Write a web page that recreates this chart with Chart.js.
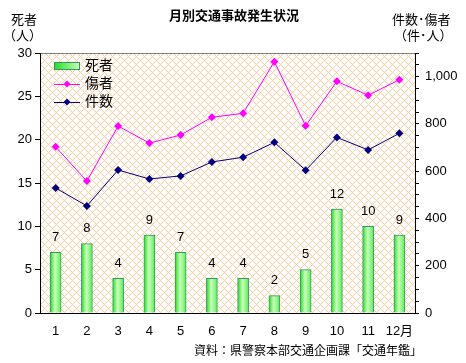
<!DOCTYPE html>
<html>
<head>
<meta charset="utf-8">
<script src="https://cdn.jsdelivr.net/npm/chart.js@4"></script>
<style>
  html, body { margin: 0; padding: 0; background: #fff; }
  #chart { display: block; }
</style>
</head>
<body>
<canvas id="chart" width="466" height="363"></canvas>
<script>
// data
var months = ["1", "2", "3", "4", "5", "6", "7", "8", "9", "10", "11", "12月"];
var deaths = [7, 8, 4, 9, 7, 4, 4, 2, 5, 12, 10, 9];
var injured = [703, 558, 791, 719, 753, 828, 845, 1063, 792, 980, 921, 987];
var accidents = [529, 453, 605, 567, 580, 639, 659, 722, 604, 743, 690, 760];
var seriesNames = ["死者", "傷者", "件数"];

var FONT = "'Liberation Sans', 'Noto Sans CJK JP', sans-serif";

// peach cross hatch for the plot area
function makeHatch(ctx) {
  var n = 8;
  var c = document.createElement('canvas');
  c.width = n; c.height = n;
  var g = c.getContext('2d');
  var img = g.createImageData(n, n);
  for (var y = 0; y < n; y++) {
    for (var x = 0; x < n; x++) {
      var i = (y * n + x) * 4;
      var on = ((x + y) % n === 0) || ((x - y + n) % n === 0);
      img.data[i] = 255;
      img.data[i + 1] = on ? 204 : 255;
      img.data[i + 2] = on ? 153 : 255;
      img.data[i + 3] = 255;
    }
  }
  g.putImageData(img, 0, 0);
  return ctx.createPattern(c, 'repeat');
}

function barFill(c) {
  var chart = c.chart;
  if (!chart.scales.x || c.dataIndex === undefined) return '#66ee66';
  var x = chart.scales.x.getPixelForValue(c.dataIndex);
  if (!isFinite(x)) return '#66ee66';
  var g = chart.ctx.createLinearGradient(x - 5.5, 0, x + 5.5, 0);
  g.addColorStop(0, '#22dd22');
  g.addColorStop(0.45, '#ccffbb');
  g.addColorStop(1, '#55ee55');
  return g;
}

var decor = {
  id: 'decor',
  beforeDraw: function (chart) {
    var ctx = chart.ctx, a = chart.chartArea;
    ctx.save();
    ctx.fillStyle = makeHatch(ctx);
    ctx.fillRect(a.left, a.top, a.right - a.left, a.bottom - a.top);
    ctx.strokeStyle = '#808080';
    ctx.lineWidth = 1;
    ctx.beginPath();
    ctx.moveTo(a.left, a.top + 0.5);
    ctx.lineTo(a.right, a.top + 0.5);
    ctx.stroke();
    ctx.restore();
  },
  afterDraw: function (chart) {
    var ctx = chart.ctx;
    ctx.save();
    ctx.fillStyle = '#000';
    ctx.textBaseline = 'middle';
    // title
    ctx.font = "bold 13px " + FONT;
    ctx.textAlign = 'center';
    ctx.fillText('月別交通事故発生状況', 234, 16);
    // axis titles
    ctx.font = "13px " + FONT;
    ctx.textAlign = 'left';
    ctx.fillText('死者', 11, 20);
    ctx.fillText('（人）', 3, 36);
    ctx.fillText('件数･傷者', 392, 20);
    ctx.fillText('（件･人）', 394, 36);
    // source
    ctx.font = "12px " + FONT;
    ctx.textAlign = 'right';
    ctx.fillText('資料：県警察本部交通企画課「交通年鑑」', 422, 352);

    // legend
    var lx = 54, ly = 66;
    var lg = ctx.createLinearGradient(lx, 0, lx + 26, 0);
    lg.addColorStop(0, '#22dd22');
    lg.addColorStop(1, '#ccffbb');
    ctx.fillStyle = lg;
    ctx.fillRect(lx, ly - 4, 26, 8);
    ctx.strokeStyle = '#339966';
    ctx.lineWidth = 1;
    ctx.strokeRect(lx + 0.5, ly - 3.5, 25, 7);
    var cols = ['#ff00ff', '#000080'];
    for (var k = 0; k < 2; k++) {
      var yy = ly + 18 * (k + 1);
      ctx.strokeStyle = cols[k];
      ctx.fillStyle = cols[k];
      ctx.beginPath();
      ctx.moveTo(lx, yy + 0.5);
      ctx.lineTo(lx + 26, yy + 0.5);
      ctx.stroke();
      ctx.beginPath();
      ctx.moveTo(lx + 13, yy - 3.5);
      ctx.lineTo(lx + 16.5, yy);
      ctx.lineTo(lx + 13, yy + 3.5);
      ctx.lineTo(lx + 9.5, yy);
      ctx.closePath();
      ctx.fill();
    }
    ctx.fillStyle = '#000';
    ctx.font = "14px " + FONT;
    ctx.textAlign = 'left';
    for (var j = 0; j < 3; j++) ctx.fillText(seriesNames[j], 85, ly + 18 * j);

    // values above bars
    ctx.font = "13px " + FONT;
    ctx.textAlign = 'center';
    var meta = chart.getDatasetMeta(0);
    meta.data.forEach(function (bar, i) {
      ctx.fillText(String(deaths[i]), bar.x, bar.y - 15);
    });
    ctx.restore();
  }
};

var ctx = document.getElementById('chart').getContext('2d');
var chart = new Chart(ctx, {
  type: 'bar',
  data: {
    labels: months,
    datasets: [{
      type: 'bar',
      label: seriesNames[0],
      data: deaths,
      yAxisID: 'y',
      backgroundColor: barFill,
      borderColor: '#339966',
      borderWidth: 1,
      borderSkipped: 'bottom',
      barThickness: 11,
      order: 3
    }, {
      type: 'line',
      label: seriesNames[1],
      data: injured,
      yAxisID: 'y1',
      borderColor: '#ff00ff',
      backgroundColor: '#ff00ff',
      borderWidth: 1,
      pointStyle: 'rectRot',
      pointRadius: 4,
      pointBorderWidth: 0,
      tension: 0,
      order: 1
    }, {
      type: 'line',
      label: seriesNames[2],
      data: accidents,
      yAxisID: 'y1',
      borderColor: '#000080',
      backgroundColor: '#000080',
      borderWidth: 1,
      pointStyle: 'rectRot',
      pointRadius: 4,
      pointBorderWidth: 0,
      tension: 0,
      order: 2
    }]
  },
  options: {
    responsive: false,
    devicePixelRatio: 1,
    animation: false,
    layout: { padding: { top: 53, left: 0, right: 0, bottom: 0 } },
    plugins: {
      legend: { display: false },
      tooltip: { enabled: false }
    },
    scales: {
      x: {
        offset: true,
        grid: { display: false, drawTicks: false },
        border: { color: '#000', width: 1 },
        ticks: { color: '#000', font: { family: FONT, size: 13 }, padding: 11, maxRotation: 0, autoSkip: false },
        afterFit: function (s) { s.height = 50; }
      },
      y: {
        position: 'left',
        min: 0,
        max: 30,
        ticks: { stepSize: 5, color: '#000', font: { family: FONT, size: 13 }, padding: 3 },
        grid: { drawOnChartArea: false, color: '#000', tickLength: 5 },
        border: { color: '#000', width: 1 },
        afterFit: function (s) { s.width = 40; }
      },
      y1: {
        position: 'right',
        min: 0,
        max: 1100,
        ticks: {
          stepSize: 50,
          autoSkip: false,
          color: '#000',
          font: { family: FONT, size: 13 },
          padding: 6,
          callback: function (v) { return v % 200 === 0 ? v.toLocaleString('en-US') : ''; }
        },
        grid: { drawOnChartArea: false, color: '#000', tickLength: 4 },
        border: { color: '#000', width: 1 },
        afterFit: function (s) { s.width = 51; }
      }
    }
  },
  plugins: [decor]
});
</script>
</body>
</html>
